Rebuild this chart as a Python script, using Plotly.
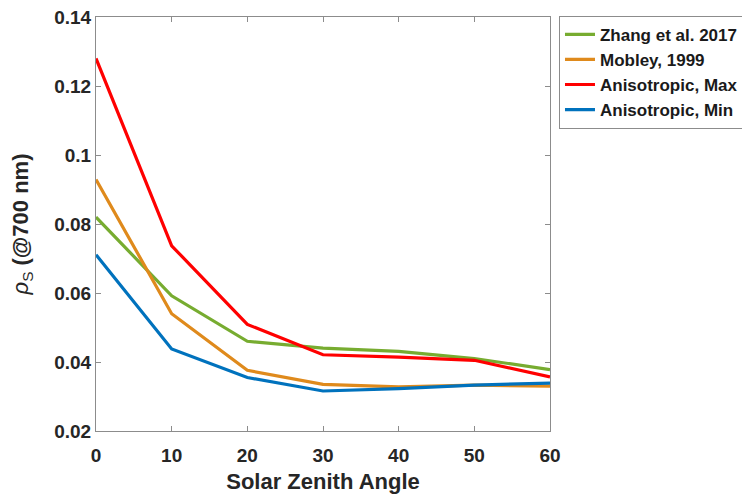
import plotly.graph_objects as go

angles = [0, 10, 20, 30, 40, 50, 60]
zhang = [0.0820, 0.0592, 0.0460, 0.0440, 0.0431, 0.0410, 0.0378]
mobley = [0.0929, 0.0540, 0.0376, 0.0335, 0.0328, 0.0333, 0.0330]
aniso_max = [0.1280, 0.0737, 0.0509, 0.0421, 0.0414, 0.0405, 0.0357]
aniso_min = [0.0711, 0.0438, 0.0355, 0.0316, 0.0323, 0.0333, 0.0339]

names = ["Zhang et al. 2017", "Mobley, 1999", "Anisotropic, Max", "Anisotropic, Min"]
colors = ["#77AC30", "#DF8A1C", "#FF0000", "#0072BD"]
series = [zhang, mobley, aniso_max, aniso_min]

ytickvals = [0.02, 0.04, 0.06, 0.08, 0.10, 0.12, 0.14]
yticktext = ["0.02", "0.04", "0.06", "0.08", "0.1", "0.12", "0.14"]
xtickvals = [0, 10, 20, 30, 40, 50, 60]

fig = go.Figure()
for n, c, s in zip(names, colors, series):
    fig.add_trace(go.Scatter(x=angles, y=s, mode="lines", name=n,
                             line=dict(color=c, width=3.2)))

font_family = "Liberation Sans, Arial, sans-serif"
axis_common = dict(showline=True, linecolor="#8c8c8c", linewidth=1, mirror="allticks",
                   ticks="inside", ticklen=5, tickcolor="#8c8c8c", showgrid=False,
                   zeroline=False, automargin=False, ticklabeloverflow="allow",
                   tickfont=dict(family=font_family, size=19, color="#262626", weight="bold"))

fig.update_layout(
    width=750, height=494,
    margin=dict(l=88, r=208, t=9, b=71, autoexpand=False),
    paper_bgcolor="white", plot_bgcolor="white",
    font=dict(family=font_family, color="#262626"),
    xaxis=dict(range=[0, 60], tickvals=xtickvals, ticklabelstandoff=7,
               title=dict(text="Solar Zenith Angle",
                          font=dict(size=22, weight="bold", family=font_family, color="#262626"),
                          standoff=8),
               **axis_common),
    yaxis=dict(range=[0.02, 0.14], tickvals=ytickvals, ticktext=yticktext,
               title=dict(text="<i>ρ</i><sub><span style='font-weight:normal'>S</span></sub> <b>(@700 nm)</b>",
                          font=dict(size=22, family=font_family, color="#262626"), standoff=22),
               **axis_common),
    legend=dict(x=1.0198, y=1.003, xanchor="left", yanchor="top",
                bgcolor="white", bordercolor="#8c8c8c", borderwidth=1,
                font=dict(family=font_family, size=17, color="#1a1a1a", weight="bold"),
                itemwidth=30, tracegroupgap=0),
)

fig.write_html("out.html")
